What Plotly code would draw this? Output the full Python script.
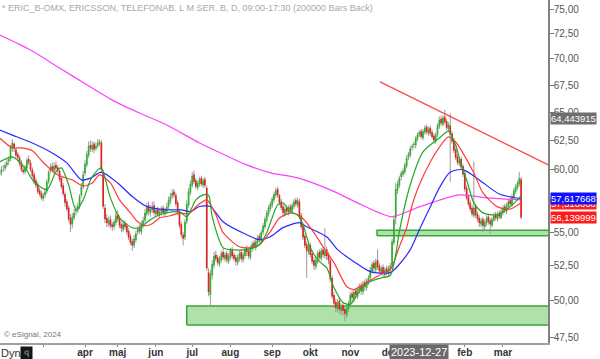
import numpy as np
import pandas as pd
import plotly.graph_objects as go

# ---------------- data ----------------
holidays = ["2023-04-07", "2023-04-10", "2023-05-01", "2023-05-18", "2023-06-06",
            "2023-06-23", "2023-12-25", "2023-12-26", "2024-01-01"]

opens = [59.6, 59.8, 60.1, 60.1, 60.4, 60.7, 60.9, 61.8, 62.2, 61.7,
         61.3, 61.0, 60.6, 60.0, 59.8, 60.1, 60.9, 60.6, 60.0, 59.6,
         59.1, 58.8, 58.3, 58.1, 57.6, 57.9, 58.2, 59.0, 59.9, 60.3,
         59.9, 60.4, 60.2, 59.9, 59.3, 58.7, 58.0, 57.4, 56.9, 56.1,
         55.6, 56.1, 56.6, 56.7, 57.0, 57.9, 58.6, 59.7, 60.4, 61.2,
         62.1, 61.7, 62.2, 61.8, 62.0, 62.2, 62.3, 59.8, 56.9, 56.1,
         55.6, 56.0, 55.6, 55.4, 55.7, 56.4, 56.1, 55.6, 55.2, 55.7,
         55.5, 55.1, 54.7, 54.3, 54.0, 54.4, 55.0, 55.3, 55.0, 55.5,
         55.9, 56.4, 57.1, 56.5, 56.7, 57.1, 56.4, 56.8, 56.3, 56.5,
         56.9, 56.4, 56.6, 57.0, 57.4, 57.8, 58.2, 57.9, 57.3, 56.6,
         55.6, 54.8, 54.6, 55.8, 57.1, 58.1, 58.7, 59.6, 59.1, 58.5,
         58.8, 59.3, 58.7, 59.2, 58.5, 52.0, 50.4, 51.8, 52.5, 53.3,
         53.1, 52.6, 52.9, 53.5, 53.0, 53.4, 52.8, 53.1, 53.7, 53.3,
         53.1, 52.7, 53.0, 53.5, 52.9, 53.2, 53.8, 53.6, 53.1, 53.7,
         54.2, 53.8, 54.2, 54.7, 54.3, 55.0, 55.4, 55.9, 56.4, 56.8,
         57.1, 57.5, 57.9, 58.4, 57.9, 57.4, 57.0, 56.4, 56.9, 56.5,
         57.0, 56.6, 57.0, 57.5, 57.1, 57.4, 56.3, 55.5, 54.7, 54.1,
         53.5, 54.0, 53.4, 52.9, 52.4, 52.8, 53.5, 53.0, 53.7, 53.2,
         53.7, 53.3, 52.9, 51.6, 50.4, 49.9, 49.4, 50.0, 49.3, 49.7,
         49.4, 49.0, 49.4, 49.7, 50.5, 50.1, 50.7, 50.3, 50.7, 51.1,
         50.6, 51.3, 50.9, 51.3, 51.6, 52.1, 52.7, 52.2, 52.9, 52.5,
         52.0, 52.4, 51.8, 52.3, 51.9, 52.2, 52.5, 54.2, 56.1, 58.3,
         58.7, 59.4, 59.6, 59.8, 60.3, 61.1, 61.2, 61.9, 62.1, 62.1,
         62.6, 63.0, 63.3, 62.7, 63.2, 63.7, 63.1, 63.6, 63.2, 62.9,
         62.4, 63.0, 63.7, 64.4, 63.9, 64.6, 64.2, 63.5, 63.8, 63.1,
         62.5, 61.7, 61.1, 60.5, 60.9, 60.3, 59.7, 58.5, 57.8, 57.3,
         56.9, 56.3, 57.0, 56.4, 56.1, 55.6, 56.0, 55.4, 55.7, 56.2,
         55.9, 55.5, 55.9, 56.4, 56.0, 56.5, 56.1, 56.5, 57.0, 56.6,
         57.0, 57.5, 57.1, 57.7, 58.2, 58.5, 58.8, 59.2]

highs = [60.1, 60.3, 60.4, 60.6, 60.9, 61.1, 62.1, 62.6, 62.3, 61.8,
         61.5, 61.2, 60.8, 60.3, 60.4, 61.0, 61.2, 60.8, 60.2, 59.8,
         59.3, 59.0, 58.5, 58.3, 58.1, 58.5, 59.2, 60.0, 60.5, 60.6,
         60.6, 60.7, 60.4, 60.0, 59.5, 58.9, 58.2, 57.6, 57.1, 56.4,
         56.5, 56.8, 57.1, 57.3, 58.0, 58.9, 59.9, 60.8, 61.6, 62.4,
         62.5, 62.4, 62.4, 62.3, 62.6, 62.6, 62.5, 60.0, 57.2, 56.4,
         56.2, 56.3, 55.8, 56.0, 56.6, 56.7, 56.3, 55.8, 55.9, 55.9,
         55.7, 55.3, 54.9, 54.5, 54.8, 55.1, 55.5, 55.6, 55.9, 56.2,
         56.8, 57.3, 57.4, 57.1, 57.4, 57.4, 56.9, 57.0, 56.8, 57.0,
         57.1, 56.9, 57.3, 57.8, 58.1, 58.4, 58.4, 58.1, 57.5, 56.8,
         55.8, 55.0, 56.0, 57.5, 58.5, 59.1, 59.8, 59.9, 59.3, 59.1,
         59.4, 59.5, 59.3, 59.4, 58.7, 52.3, 52.2, 52.9, 53.5, 53.6,
         53.3, 53.2, 53.6, 53.8, 53.5, 53.6, 53.4, 53.8, 53.9, 53.5,
         53.3, 53.3, 53.6, 53.7, 53.5, 53.9, 54.0, 53.8, 54.0, 54.3,
         54.4, 54.5, 54.8, 54.9, 55.2, 55.7, 56.2, 56.7, 57.1, 57.4,
         57.8, 58.2, 58.5, 58.6, 58.0, 57.6, 57.2, 57.0, 57.1, 57.1,
         57.2, 57.3, 57.6, 57.7, 57.7, 57.6, 56.5, 55.7, 54.9, 54.3,
         54.1, 54.2, 53.6, 53.1, 53.1, 53.6, 53.7, 53.8, 53.9, 55.3,
         53.9, 53.5, 53.1, 51.8, 50.6, 50.1, 50.1, 50.2, 49.8, 49.9,
         49.6, 49.7, 50.0, 50.6, 50.7, 50.8, 50.9, 51.0, 51.2, 51.3,
         51.4, 51.5, 51.6, 51.8, 52.4, 52.8, 52.9, 53.0, 53.7, 52.7,
         52.5, 52.6, 52.4, 52.5, 52.5, 52.7, 54.5, 56.3, 58.9, 59.1,
         59.5, 59.9, 60.1, 60.6, 61.2, 61.5, 62.0, 62.2, 62.4, 62.9,
         63.2, 63.4, 63.5, 63.5, 63.8, 63.9, 63.7, 63.8, 63.4, 63.1,
         63.2, 64.0, 64.6, 64.7, 64.7, 65.2, 64.4, 64.1, 64.9, 63.3,
         62.7, 61.9, 61.3, 61.0, 61.1, 60.5, 59.9, 58.7, 58.0, 57.5,
         57.1, 60.7, 57.2, 56.6, 56.3, 56.1, 56.2, 56.0, 56.3, 56.4,
         56.1, 56.2, 56.5, 56.6, 56.6, 56.7, 56.8, 57.1, 57.2, 57.3,
         57.6, 57.7, 58.0, 58.5, 58.8, 59.1, 59.8, 59.4]

lows = [59.3, 59.5, 59.8, 59.9, 60.2, 60.4, 60.7, 61.5, 61.5, 61.0,
        60.7, 60.3, 59.8, 59.6, 59.6, 59.9, 60.4, 59.8, 59.3, 58.8,
        58.5, 58.0, 57.8, 57.5, 57.4, 57.7, 58.0, 58.8, 59.7, 59.8,
        59.6, 59.9, 59.7, 59.0, 58.4, 57.8, 57.0, 56.6, 55.8, 55.0,
        55.3, 55.9, 56.3, 56.5, 56.8, 57.7, 58.4, 59.5, 60.2, 61.0,
        61.5, 61.5, 61.4, 61.6, 61.8, 62.0, 59.8, 56.8, 55.7, 55.4,
        55.4, 55.3, 55.1, 55.2, 55.5, 55.8, 55.3, 55.0, 55.0, 55.2,
        54.8, 54.4, 54.0, 53.6, 53.8, 54.2, 54.8, 54.9, 54.8, 55.3,
        55.7, 56.2, 56.3, 56.2, 56.5, 56.3, 56.2, 56.2, 56.1, 56.3,
        56.3, 56.2, 56.4, 56.8, 57.2, 57.6, 57.7, 57.0, 56.3, 55.3,
        54.6, 54.0, 54.4, 55.6, 56.9, 57.9, 58.5, 58.8, 58.4, 58.3,
        58.6, 58.6, 58.5, 58.5, 52.1, 50.3, 49.7, 51.5, 52.3, 52.8,
        52.5, 52.4, 52.7, 52.9, 52.8, 52.7, 52.6, 52.9, 53.0, 52.8,
        52.5, 52.5, 52.8, 52.8, 52.7, 53.0, 53.2, 53.0, 52.9, 53.5,
        53.7, 53.6, 54.0, 54.2, 54.1, 54.8, 55.2, 55.7, 56.2, 56.6,
        56.9, 57.3, 57.7, 57.7, 57.1, 56.7, 56.3, 56.2, 56.4, 56.3,
        56.5, 56.4, 56.8, 57.0, 56.9, 56.0, 55.2, 54.4, 53.8, 51.6,
        53.3, 53.1, 52.6, 52.2, 52.2, 52.6, 52.9, 52.8, 53.1, 53.0,
        52.9, 52.6, 51.3, 50.1, 49.5, 49.2, 49.2, 49.1, 49.0, 49.0,
        48.6, 48.8, 49.2, 49.5, 49.9, 49.9, 50.2, 50.1, 50.5, 50.4,
        50.4, 50.7, 50.7, 51.1, 51.4, 51.9, 52.0, 52.0, 52.2, 51.9,
        51.8, 51.6, 51.6, 51.8, 51.7, 52.0, 52.3, 54.0, 55.6, 58.0,
        58.5, 59.1, 59.4, 59.6, 60.1, 60.8, 61.0, 61.6, 61.8, 61.8,
        62.4, 62.8, 62.6, 62.5, 63.0, 63.0, 62.9, 62.9, 62.6, 62.2,
        62.2, 62.8, 63.5, 63.8, 63.7, 63.9, 63.4, 63.3, 59.0, 62.2,
        61.4, 60.8, 60.4, 60.3, 60.0, 59.4, 58.2, 57.5, 57.0, 56.6,
        56.2, 56.1, 56.1, 55.8, 55.4, 55.4, 55.0, 55.2, 55.5, 55.6,
        54.9, 55.4, 55.8, 55.9, 55.8, 56.0, 56.0, 56.3, 56.5, 56.4,
        56.8, 57.0, 57.0, 57.5, 58.0, 58.3, 58.6, 56.0]

closes = [59.8, 60.0, 60.1, 60.4, 60.6, 60.9, 61.9, 62.3, 61.8, 61.2,
          61.0, 60.5, 60.0, 59.8, 60.2, 60.8, 60.6, 60.0, 59.5, 59.0,
          58.7, 58.2, 58.0, 57.7, 57.9, 58.2, 59.0, 59.8, 60.2, 60.0,
          60.3, 60.1, 59.9, 59.2, 58.6, 58.0, 57.3, 56.8, 56.0, 55.6,
          56.2, 56.5, 56.8, 57.0, 57.8, 58.6, 59.6, 60.5, 61.3, 62.0,
          61.8, 62.1, 61.7, 62.0, 62.3, 62.4, 60.0, 57.0, 56.0, 55.7,
          55.9, 55.5, 55.4, 55.8, 56.3, 56.0, 55.5, 55.3, 55.6, 55.4,
          55.0, 54.6, 54.2, 54.0, 54.5, 54.9, 55.2, 55.1, 55.6, 55.9,
          56.5, 57.0, 56.6, 56.8, 57.0, 56.5, 56.7, 56.4, 56.6, 56.8,
          56.5, 56.7, 57.0, 57.5, 57.8, 58.1, 57.9, 57.2, 56.5, 55.5,
          54.8, 54.5, 55.8, 57.2, 58.2, 58.8, 59.5, 59.0, 58.6, 58.9,
          59.2, 58.8, 59.1, 58.7, 52.3, 50.6, 51.9, 52.6, 53.2, 53.0,
          52.7, 53.0, 53.4, 53.1, 53.3, 52.9, 53.2, 53.6, 53.2, 53.0,
          52.8, 53.1, 53.4, 53.0, 53.3, 53.7, 53.5, 53.2, 53.8, 54.1,
          53.9, 54.3, 54.6, 54.4, 55.0, 55.5, 56.0, 56.5, 56.9, 57.2,
          57.6, 58.0, 58.3, 57.9, 57.3, 56.9, 56.5, 56.8, 56.6, 56.9,
          56.7, 57.1, 57.4, 57.2, 57.5, 56.2, 55.4, 54.6, 54.0, 53.6,
          53.9, 53.3, 52.8, 52.5, 52.9, 53.4, 53.1, 53.6, 53.3, 53.6,
          53.2, 52.9, 51.5, 50.3, 49.8, 49.5, 49.9, 49.4, 49.6, 49.3,
          49.1, 49.5, 49.8, 50.4, 50.2, 50.6, 50.4, 50.8, 51.0, 50.7,
          51.2, 51.0, 51.4, 51.6, 52.2, 52.6, 52.3, 52.8, 52.4, 52.1,
          52.3, 51.9, 52.2, 52.0, 52.3, 52.5, 54.3, 56.0, 58.4, 58.8,
          59.3, 59.7, 59.9, 60.4, 61.0, 61.3, 61.8, 62.0, 62.2, 62.7,
          63.0, 63.2, 62.8, 63.3, 63.6, 63.2, 63.5, 63.1, 62.8, 62.5,
          63.0, 63.8, 64.3, 64.0, 64.5, 64.1, 63.6, 63.9, 63.0, 62.4,
          61.6, 61.0, 60.6, 60.8, 60.2, 59.6, 58.4, 57.7, 57.2, 56.8,
          56.4, 56.9, 56.3, 56.0, 55.7, 55.9, 55.5, 55.8, 56.1, 55.8,
          55.6, 56.0, 56.3, 56.1, 56.4, 56.2, 56.6, 56.9, 56.7, 57.1,
          57.4, 57.2, 57.8, 58.3, 58.6, 58.9, 59.3, 56.14]

# moving averages (bar index, value)
ma_green_x = [0, 7, 14, 19, 26, 31, 34, 38, 42, 46, 50, 54, 56, 61, 66, 73, 77, 83, 88, 95,
              99, 103, 108, 112, 115, 117, 123, 127, 136, 143, 147, 153, 156, 160, 164, 167,
              171, 176, 180, 184, 189, 193, 198, 204, 211, 215, 218, 220, 226, 233, 242, 247,
              251, 254, 257, 261, 266, 274, 281, 287]
ma_green_y = [60.65, 61.08, 60.15, 58.98, 58.34, 59.81, 60.15, 58.74, 56.74, 57.53, 59.15, 59.98,
              60.15, 57.69, 56.11, 55.34, 55.34, 55.96, 56.35, 56.58, 56.58, 56.19, 57.53, 57.93,
              57.9, 56.2, 53.83, 53.68, 53.68, 54.05, 54.96, 57.13, 57.29, 56.58, 56.35, 55.57,
              53.83, 52.79, 52.35, 50.92, 49.88, 49.74, 50.64, 51.35, 51.64, 51.78, 53.31, 55.04,
              58.75, 61.5, 62.7, 63.3, 62.1, 60.4, 59.15, 57.29, 56.5, 56.35, 56.97, 57.85]

ma_red_x = [0, 7, 12, 18, 24, 32, 40, 46, 51, 55, 61, 66, 72, 76, 80, 84, 88, 94, 99, 104,
            109, 114, 119, 123, 132, 138, 143, 149, 154, 161, 167, 173, 178, 184, 191, 195,
            202, 209, 215, 220, 224, 227, 231, 237, 242, 247, 251, 255, 261, 266, 274, 281, 287]
ma_red_y = [62.7, 61.85, 61.85, 61.6, 60.6, 59.56, 59.15, 58.65, 58.9, 59.56, 58.9, 57.53, 56.5,
            55.8, 55.5, 55.65, 56.1, 56.27, 56.5, 56.42, 57.1, 57.53, 56.35, 54.96, 53.9, 53.83,
            54.05, 55.04, 56.1, 56.5, 56.04, 54.96, 53.9, 52.72, 51.0, 50.78, 51.3, 51.8, 52.21,
            53.9, 55.34, 57.1, 58.75, 60.65, 61.9, 62.8, 62.36, 61.4, 59.73, 58.1, 56.97, 56.8, 57.3]

ma_blue_x = [0, 7, 18, 28, 37, 45, 50, 56, 65, 73, 81, 92, 100, 105, 110, 116, 123, 136, 143,
             149, 156, 165, 169, 180, 186, 195, 204, 215, 220, 226, 231, 237, 242, 248, 255,
             264, 275, 287]
ma_blue_y = [63.4, 62.96, 62.27, 61.5, 60.57, 59.15, 59.3, 59.8, 58.9, 57.8, 57.0, 56.74, 56.74,
             56.6, 57.0, 57.0, 55.8, 54.8, 54.43, 54.65, 55.35, 55.73, 55.42, 54.65, 53.68, 52.79,
             52.06, 51.99, 52.6, 53.68, 55.19, 56.97, 58.5, 59.8, 60.0, 59.15, 58.0, 57.62]

ma_mag_x = [0, 17, 33, 50, 62, 77, 92, 110, 118, 136, 149, 164, 182, 197, 209, 216, 231, 253, 268, 287]
ma_mag_y = [72.37, 70.87, 69.12, 67.31, 66.1, 64.92, 63.85, 62.27, 61.67, 60.4, 59.73, 59.32,
            58.34, 57.29, 56.5, 56.19, 56.97, 57.93, 57.69, 57.53]

trend_x = [209.4, 302.5]
trend_y = [67.8, 60.36]

zone_low_x = [103.0, 306.0]
zone_low_y = [48.33, 49.63]
zone_mid_x = [207.7, 306.0]
zone_mid_y = [54.73, 55.14]

month_names = ["", "apr", "maj", "jun", "jul", "aug", "sep", "okt", "nov", "dec", "jan", "feb", "mar"]
y_ticks = [47.5, 50.0, 52.5, 55.0, 57.5, 60.0, 62.5, 65.0, 67.5, 70.0, 72.5, 75.0]

price_labels = [(64.443915, "64,443915", "#6e6e6e"),
                (57.25, "57,516668", "#ff2020"),
                (57.617668, "57,617668", "#1010ff"),
                (56.139999, "56,139999", "#ff1a1a")]

# ---------------- build ----------------
days = pd.bdate_range("2023-01-26", "2024-03-31")
days = days[~days.isin(pd.to_datetime(holidays))][:len(closes)]
n = len(closes)
idx = list(range(n))

tick_idx = []
seen = set()
for i, d in enumerate(days):
    key = (d.year, d.month)
    if key not in seen:
        seen.add(key)
        if (d.year, d.month) >= (2023, 3):
            tick_idx.append(i)
tick_idx = tick_idx[:len(month_names)]

fig = go.Figure()


def rect(xs, ys):
    return [xs[0], xs[1], xs[1], xs[0], xs[0]], [ys[0], ys[0], ys[1], ys[1], ys[0]]


for zx, zy in [(zone_low_x, zone_low_y), (zone_mid_x, zone_mid_y)]:
    rx, ry = rect(zx, zy)
    fig.add_trace(go.Scatter(x=rx, y=ry, mode="lines", fill="toself",
                             fillcolor="rgba(150,215,140,0.75)",
                             line=dict(color="#3aa63a", width=1.5), hoverinfo="skip"))

wx, wy = [], []
for i in idx:
    wx += [i, i, None]
    wy += [lows[i], highs[i], None]
fig.add_trace(go.Scatter(x=wx, y=wy, mode="lines", line=dict(color="#9a9a9a", width=1),
                         hoverinfo="skip"))

for up, col in [(True, "#2fb02f"), (False, "#e02424")]:
    bx, by = [], []
    for i in idx:
        if (closes[i] >= opens[i]) == up:
            bx += [i, i, None]
            by += [opens[i], closes[i], None]
    fig.add_trace(go.Scatter(x=bx, y=by, mode="lines", line=dict(color=col, width=1.7),
                             hoverinfo="skip"))

for mx, my, col in [(ma_mag_x, ma_mag_y, "#ff40ff"), (ma_blue_x, ma_blue_y, "#2a2aff"),
                    (ma_red_x, ma_red_y, "#ff3b3b"), (ma_green_x, ma_green_y, "#22a822")]:
    fig.add_trace(go.Scatter(x=mx, y=my, mode="lines",
                             line=dict(color=col, width=1.2, shape="spline", smoothing=0.7),
                             hoverinfo="skip"))

fig.add_trace(go.Scatter(x=trend_x, y=trend_y, mode="lines",
                         line=dict(color="#ff4a4a", width=1.3), hoverinfo="skip"))

# small arrow tips of the price labels on the right axis
fig.add_trace(go.Scatter(x=[302.4] * len(price_labels), y=[p[0] for p in price_labels],
                         mode="markers", cliponaxis=False, hoverinfo="skip",
                         marker=dict(symbol="triangle-left", size=7,
                                     color=[p[2] for p in price_labels], line=dict(width=0))))

FONT = "Liberation Sans, Arial, sans-serif"
ymin, ymax = 47.14, 75.98

fig.update_layout(
    width=600, height=359,
    margin=dict(l=0, r=52, t=0, b=16, autoexpand=False),
    paper_bgcolor="white", plot_bgcolor="white",
    showlegend=False,
    font=dict(family=FONT),
    xaxis=dict(range=[0.22, 301.8], showgrid=False, zeroline=False, automargin=False,
               tickmode="array", tickvals=tick_idx,
               ticktext=[f"<b>{m}</b>" if m else "" for m in month_names],
               ticks="outside", ticklen=2, tickcolor="#888", ticklabelstandoff=-3,
               tickfont=dict(size=10, color="#333", family="Liberation Sans, Arial"),
               showline=True, linecolor="#a0a0a0", linewidth=2),
    yaxis=dict(type="log", side="right", range=[np.log10(ymin), np.log10(ymax)],
               showgrid=False, zeroline=False, automargin=False,
               tickmode="array", tickvals=y_ticks,
               ticktext=[f"{v:.2f}".replace(".", ",") for v in y_ticks],
               ticks="outside", ticklen=4, tickcolor="#777", ticklabelstandoff=-2,
               tickfont=dict(size=10, color="#555"),
               showline=True, linecolor="#808080", linewidth=1.5),
)

anns = []
anns.append(dict(xref="paper", yref="paper", x=0.0, y=1.0, xanchor="left", yanchor="top",
                 yshift=-1, showarrow=False,
                 text="* ERIC_B-OMX, ERICSSON, TELEFONAB. L M SER. B, D, 09:00-17:30 (200000 Bars Back)",
                 font=dict(size=9, color="#a8a8a8")))
anns.append(dict(xref="paper", yref="paper", x=0.003, y=0.024, xanchor="left", yanchor="middle",
                 showarrow=False, text="© eSignal, 2024", font=dict(size=8, color="#777")))
anns.append(dict(xref="paper", yref="paper", x=-0.002, y=0, xanchor="left", yanchor="top",
                 yshift=-2, showarrow=False, text="Dyn", font=dict(size=11, color="#333")))
anns.append(dict(xref="paper", yref="paper", x=0.037, y=0, xanchor="left", yanchor="top",
                 yshift=-3, showarrow=False, text="<b>ꟼ</b>", bgcolor="#151515",
                 font=dict(size=9, color="#777"), width=9, height=11))
date_idx = int(np.where(days == pd.Timestamp("2023-12-27"))[0][0])
anns.append(dict(xref="x", yref="paper", x=date_idx, y=0, xanchor="center", yanchor="top",
                 yshift=-1, showarrow=False, text="2023-12-27", bgcolor="#6a6a6a",
                 font=dict(size=11, color="white"), borderpad=1))

for val, txt, col in price_labels:
    anns.append(dict(xref="paper", yref="y", x=1.0, y=np.log10(val), xanchor="left",
                     yanchor="middle", xshift=2, showarrow=False, text=txt, bgcolor=col,
                     font=dict(size=9.5, color="white"), borderpad=0))
fig.update_layout(annotations=anns)

fig.write_html("out.html", config={"displayModeBar": False},
               post_script="document.body.style.margin='0px';document.body.style.padding='0px';"
                           "document.body.style.overflow='hidden';")
